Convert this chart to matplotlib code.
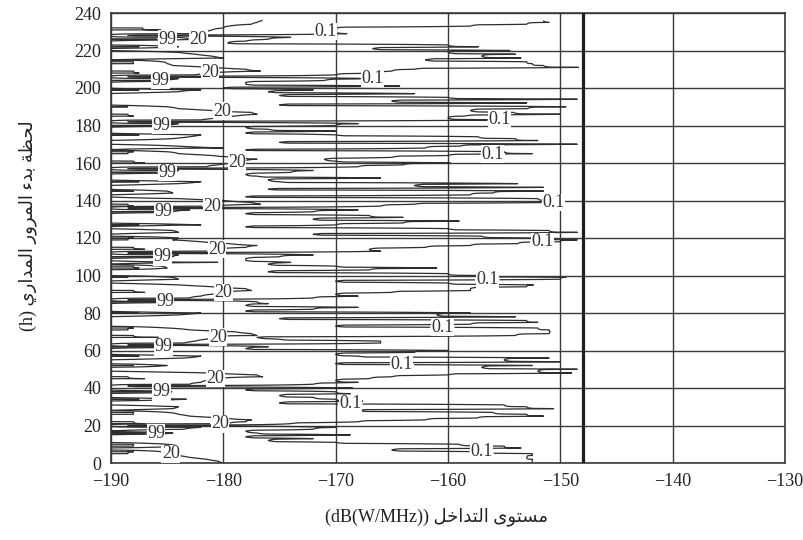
import numpy as np
import matplotlib
matplotlib.use("Agg")
import matplotlib.pyplot as plt

plt.rcParams['font.family'] = ['Liberation Serif', 'DejaVu Sans']

# pass start time (h), newest first; for each start time the interference
# level (dB(W/MHz)) exceeded for 99 %, 20 % and 0.1 % of the pass
# (values below -190 lie outside the plotted range)
start_h = np.arange(236, -1, -1)
lvl99 = [-191.0, -191.0, -191.0, -191.0, -187.2, -185.6,  # 236-231
         -191.0, -191.0, -191.0, -191.0, -185.0, -191.0, -191.0, -191.0, -187.5, -191.0,  # 230
         -191.0, -191.0, -191.0, -191.0, -191.0, -191.0, -188.0, -188.0, -191.0, -191.0,  # 220
         -191.0, -188.0, -187.5, -191.0, -191.0, -191.0, -185.6, -191.0, -191.0, -191.0,  # 210
         -191.0, -187.5, -191.0, -191.0, -191.0, -191.0, -191.0, -191.0, -191.0, -191.0,  # 200
         -188.5, -191.0, -191.0, -191.0, -188.5, -188.0, -191.0, -191.0, -191.0, -191.0,  # 190
         -185.5, -191.0, -191.0, -191.0, -191.0, -187.5, -191.0, -191.0, -191.0, -191.0,  # 180
         -191.0, -191.0, -191.0, -191.0, -188.0, -188.5, -191.0, -191.0, -191.0, -188.0,  # 170
         -187.0, -191.0, -191.0, -191.0, -191.0, -185.0, -191.0, -191.0, -191.0, -191.0,  # 160
         -187.5, -191.0, -191.0, -191.0, -191.0, -188.0, -191.0, -191.0, -191.0, -191.0,  # 150
         -191.0, -191.0, -188.5, -188.0, -191.0, -191.0, -185.3, -191.0, -191.0, -191.0,  # 140
         -191.0, -191.0, -191.0, -187.5, -191.0, -191.0, -191.0, -191.0, -191.0, -191.0,  # 130
         -188.0, -188.5, -191.0, -191.0, -191.0, -188.0, -187.0, -191.0, -191.0, -191.0,  # 120
         -185.3, -191.0, -191.0, -191.0, -191.0, -188.0, -187.5, -191.0, -191.0, -191.0,  # 110
         -191.0, -188.5, -191.0, -191.0, -191.0, -191.0, -191.0, -191.0, -188.0, -187.0,  # 100
         -191.0, -191.0, -191.0, -191.0, -185.0, -191.0, -191.0, -191.0, -191.0, -191.0,  # 90
         -187.5, -191.0, -191.0, -191.0, -191.0, -191.0, -191.0, -191.0, -188.0, -188.5,  # 80
         -191.0, -191.0, -188.0, -185.8, -191.0, -191.0, -191.0, -191.0, -185.3, -191.0,  # 70
         -191.0, -191.0, -191.0, -187.5, -191.0, -191.0, -191.0, -191.0, -188.0, -191.0,  # 60
         -191.0, -191.0, -191.0, -191.0, -188.5, -187.0, -191.0, -191.0, -191.0, -191.0,  # 50
         -191.0, -191.0, -185.5, -191.0, -191.0, -191.0, -187.5, -191.0, -191.0, -191.0,  # 40
         -191.0, -191.0, -191.0, -188.0, -188.0, -191.0, -191.0, -191.0, -188.0, -187.0,  # 30
         -191.0, -191.0, -191.0, -191.0, -186.0, -191.0, -191.0, -191.0, -191.0, -191.0,  # 20
         -188.0, -188.0, -191.0, -191.0, -188.0, -188.5, -191.0, -191.0, -191.0, -191.0,  # 10
         -191.0]  # 0
lvl20 = [-176.5, -177.0, -177.5, -179.5, -180.0, -181.0,
         -181.5, -182.0, -190.5, -184.0, -182.2, -190.5, -190.5, -190.5, -184.0, -190.5,
         -190.5, -184.0, -182.5, -181.0, -180.0, -190.5, -185.5, -185.0, -184.5, -181.0,
         -178.0, -176.7, -181.2, -182.5, -190.5, -184.0, -185.0, -190.5, -190.5, -190.5,
         -190.5, -182.0, -184.0, -190.5, -190.5, -190.5, -190.5, -190.5, -190.5, -190.5,
         -185.0, -184.0, -181.0, -177.5, -177.0, -179.0, -180.5, -182.0, -190.5, -184.0,
         -185.0, -190.5, -190.5, -190.5, -190.5, -182.0, -183.0, -184.5, -190.5, -190.5,
         -190.5, -184.0, -180.0, -190.5, -185.0, -184.0, -181.0, -178.5, -177.0, -178.0,
         -179.0, -180.5, -181.5, -190.5, -184.0, -184.5, -190.5, -190.5, -190.5, -190.5,
         -182.0, -184.0, -190.5, -190.5, -190.5, -185.0, -184.5, -190.5, -190.5, -184.0,
         -180.0, -177.5, -176.7, -181.0, -190.5, -183.0, -184.5, -190.5, -190.5, -190.5,
         -190.5, -190.5, -190.5, -182.0, -190.5, -190.5, -184.5, -184.0, -190.5, -190.5,
         -184.0, -184.5, -182.0, -179.5, -177.0, -178.0, -180.6, -181.5, -190.5, -184.0,
         -184.5, -190.5, -190.5, -180.5, -190.5, -185.5, -185.0, -190.5, -190.5, -190.5,
         -190.5, -184.5, -184.0, -190.5, -190.5, -184.0, -181.0, -178.0, -177.5, -180.0,
         -181.0, -182.0, -183.0, -190.5, -184.5, -190.5, -190.5, -190.5, -190.5, -190.5,
         -182.0, -184.0, -190.5, -190.5, -190.5, -190.5, -190.5, -190.5, -185.0, -183.0,
         -179.0, -177.5, -177.0, -180.5, -181.5, -182.5, -183.5, -190.5, -184.5, -190.5,
         -190.5, -190.5, -190.5, -182.0, -183.5, -190.5, -190.5, -190.5, -185.0, -190.5,
         -190.5, -190.5, -181.0, -177.0, -176.5, -180.7, -181.5, -182.0, -183.0, -190.5,
         -190.5, -190.5, -184.6, -190.5, -190.5, -190.5, -183.3, -190.5, -190.5, -190.5,
         -184.0, -184.5, -190.5, -185.0, -184.0, -183.0, -180.0, -177.5, -178.0, -179.5,
         -190.5, -182.0, -183.5, -190.5, -184.5, -190.5, -190.5, -190.5, -190.5, -190.5,
         -185.0, -184.0, -190.5, -190.5, -185.5, -184.7, -184.0, -183.0, -181.5, -180.5,
         -180.0]
lvl01 = [-151.5, -151.0, -153.0, -158.0, -170.0, -171.5,
         -170.0, -169.0, -188.5, -174.0, -176.0, -178.0, -179.6, -160.0, -157.3, -166.7,
         -154.5, -160.0, -154.0, -157.0, -153.5, -162.0, -153.0, -152.5, -151.5, -148.4,
         -163.0, -165.0, -166.0, -170.0, -188.5, -166.7, -171.0, -178.0, -178.0, -164.3,
         -180.0, -172.0, -176.0, -163.0, -175.0, -160.0, -148.5, -165.0, -153.0, -175.0,
         -149.5, -152.9, -158.0, -154.2, -150.0, -158.5, -160.0, -155.4, -188.5, -168.0,
         -170.0, -178.0, -176.0, -170.0, -178.0, -170.0, -157.3, -154.0, -152.0, -175.0,
         -148.5, -158.9, -162.0, -178.0, -155.0, -152.5, -160.0, -165.0, -171.0, -170.0,
         -159.8, -164.0, -168.0, -188.5, -172.0, -174.0, -178.0, -177.0, -166.0, -176.0,
         -175.0, -153.8, -163.0, -151.5, -176.0, -151.5, -156.0, -158.0, -178.0, -152.0,
         -150.6, -150.6, -163.0, -166.0, -188.5, -168.0, -172.0, -178.0, -167.0, -164.0,
         -172.0, -159.0, -164.0, -170.0, -178.0, -160.0, -151.0, -148.5, -172.0, -157.0,
         -152.5, -148.5, -150.0, -153.8, -158.0, -162.0, -167.0, -166.0, -188.5, -172.0,
         -175.0, -178.0, -178.0, -174.0, -176.0, -170.0, -161.0, -167.0, -176.0, -160.0,
         -157.4, -149.5, -150.0, -170.0, -160.0, -152.4, -153.0, -158.0, -158.0, -165.0,
         -170.0, -168.0, -172.0, -188.5, -177.0, -176.0, -178.0, -168.0, -172.0, -178.0,
         -158.0, -161.0, -154.0, -175.0, -153.0, -152.0, -158.0, -170.0, -152.0, -151.0,
         -150.9, -151.0, -154.0, -177.0, -175.0, -166.0, -166.0, -188.5, -176.0, -178.0,
         -160.0, -163.0, -170.0, -168.0, -151.0, -155.0, -150.0, -170.0, -152.5, -157.0,
         -148.5, -152.0, -149.0, -160.0, -165.0, -167.0, -170.0, -168.0, -172.0, -188.5,
         -168.5, -178.0, -170.0, -168.7, -175.0, -172.0, -170.0, -167.6, -175.0, -155.0,
         -153.0, -150.6, -168.0, -156.0, -153.0, -151.5, -157.4, -162.0, -168.0, -174.0,
         -188.5, -170.0, -172.0, -178.0, -177.0, -168.7, -178.0, -172.0, -176.0, -170.0,
         -159.0, -155.0, -153.5, -165.0, -157.0, -152.5, -152.5, -153.0, -152.5, -152.5,
         -152.5]
percent_levels = [0.1, 20, 99]
level_text = ['0.1', '20', '99']
limit_db = -148.0

assert len(lvl99) == len(lvl20) == len(lvl01) == len(start_h)

# exceedance field (log10 %) on a fine level axis, built from the three levels per row
xs = np.linspace(-190, -130, 1201)
logz = np.empty((len(start_h), xs.size))
for i in range(len(start_h)):
    xa = [-200, lvl99[i] - 1.0, lvl99[i], lvl20[i], lvl01[i], lvl01[i] + 0.8, -100]
    la = [2.0, 2.0, np.log10(99), np.log10(20), np.log10(0.1), -2.0, -2.0]
    logz[i] = np.interp(xs, xa, la)
hours = start_h[::-1]
logz = logz[::-1]


def shape_rtl(s):
    # Arabic presentation forms + visual order (matplotlib does no shaping)
    forms = {
        'ا': (0xFE8D, 0xFE8E, None, None), 'ب': (0xFE8F, 0xFE90, 0xFE91, 0xFE92),
        'ة': (0xFE93, 0xFE94, None, None), 'ت': (0xFE95, 0xFE96, 0xFE97, 0xFE98),
        'ح': (0xFEA1, 0xFEA2, 0xFEA3, 0xFEA4), 'خ': (0xFEA5, 0xFEA6, 0xFEA7, 0xFEA8),
        'د': (0xFEA9, 0xFEAA, None, None), 'ر': (0xFEAD, 0xFEAE, None, None),
        'س': (0xFEB1, 0xFEB2, 0xFEB3, 0xFEB4), 'ظ': (0xFEC5, 0xFEC6, 0xFEC7, 0xFEC8),
        'ل': (0xFEDD, 0xFEDE, 0xFEDF, 0xFEE0), 'م': (0xFEE1, 0xFEE2, 0xFEE3, 0xFEE4),
        'و': (0xFEED, 0xFEEE, None, None), 'ى': (0xFEEF, 0xFEF0, None, None),
        'ي': (0xFEF1, 0xFEF2, 0xFEF3, 0xFEF4), 'ء': (0xFE80, None, None, None),
    }
    out = []
    for i, ch in enumerate(s):
        f = forms.get(ch)
        if f is None:
            out.append(ch)
            continue
        prev = s[i - 1] if i > 0 else ''
        nxt = s[i + 1] if i + 1 < len(s) else ''
        jp = prev in forms and forms[prev][2] is not None and f[1] is not None
        jn = f[2] is not None and nxt in forms and forms[nxt][1] is not None
        k = 3 if (jp and jn) else 1 if jp else 2 if jn else 0
        out.append(chr(f[k]))
    return ''.join(out)[::-1]


fig = plt.figure(figsize=(8.04, 5.40), dpi=100)
ax = fig.add_axes([111 / 804, 1 - 463 / 540, 674 / 804, 450 / 540])

lc = '#2e2e2e'
pos01 = [(-170.9, 229.9), (-166.7, 204.8), (-155.4, 182.9), (-156, 165.3), (-149.6, 136.5),
         (-151.6, 112.5), (-156.5, 96.5), (-160.5, 73.1), (-164.1, 51.7), (-168.7, 28.3), (-157, 5.9)]
pos20 = [(-182.1, 225.6), (-181.2, 208.5), (-180.1, 186.7), (-178.8, 160.5), (-181, 137.6),
         (-180.6, 115.2), (-180, 91.2), (-180.5, 67.2), (-180.7, 45.3), (-180.3, 20.3), (-184.7, 4.3)]
pos99 = [(-184.9, 225.6), (-185, 204.3), (-185.4, 180.3), (-184.7, 155.2), (-185, 133.9),
         (-185.4, 109.9), (-185.2, 85.3), (-185.2, 62.4), (-185.4, 38.4), (-185.6, 16.5)]
label_pos = [pos01, pos20, pos99]

for p, txt, pos in zip(percent_levels, level_text, label_pos):
    cs = ax.contour(xs, hours, logz, levels=[np.log10(p)], colors=lc,
                    linewidths=0.9, linestyles='solid')
    labels = ax.clabel(cs, fmt={cs.levels[0]: txt}, manual=pos, inline=True,
                       inline_spacing=1, fontsize=13, colors='#333333')
    for t in labels:
        t.set_rotation(0)
        t.set_bbox(dict(facecolor='white', edgecolor='none', pad=0.3))
        t.set_zorder(4)

ax.axvline(limit_db, color='#1e1e1e', lw=2.3, zorder=3)

ax.set_xlim(-190, -130)
ax.set_ylim(0, 240)
ax.set_xticks(np.arange(-190, -129, 10))
ax.set_yticks(np.arange(0, 241, 20))
ax.grid(True, color='#3a3a3a', lw=1.0)
ax.set_axisbelow(True)
ax.tick_params(length=0, labelsize=13, pad=7, colors='#222222')
for s in ax.spines.values():
    s.set_color('#3a3a3a')
    s.set_linewidth(1.2)

fig.text(437 / 804, 1 - 517 / 540, '(dB(W/MHz)) ' + shape_rtl('مستوى التداخل'),
         ha='center', va='center', fontsize=13, color='#222222')
fig.text(28 / 804, 1 - 226 / 540, '(h) ' + shape_rtl('لحظة بدء المرور المداري'),
         ha='center', va='center', rotation=90, fontsize=13, color='#222222')

fig.savefig('out.png', dpi=100)
